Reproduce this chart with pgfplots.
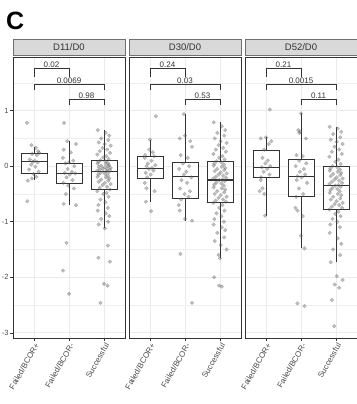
\documentclass[border=0pt]{standalone}
\usepackage{pgfplots}
\pgfplotsset{compat=1.18}
\usepackage{fontspec}
\setmainfont{Liberation Sans}
\definecolor{g20}{HTML}{333333}
\definecolor{g30}{HTML}{4D4D4D}
\definecolor{stripc}{HTML}{D9D9D9}
\definecolor{gridc}{HTML}{EBEBEB}
\pgfplotsset{
  panel/.style={
    scale only axis, width=112pt, height=281pt, anchor=south west,
    xmin=0.4, xmax=3.6, ymin=-3.094, ymax=1.967,
    xtick={1,2,3}, xticklabels={Failed/BCOR+, Failed/BCOR-, Successful},
    ytick={-3,-2,-1,0,1}, minor ytick={-2.5,-1.5,-0.5,0.5,1.5},
    grid=both,
    major grid style={color=gridc, line width=0.6pt},
    minor grid style={color=gridc!80, line width=0.3pt},
    tick align=outside, tick pos=left, major tick length=2.8pt, minor tick length=0pt,
    tick style={g20, line width=0.5pt},
    axis line style={g20, line width=0.7pt},
    x tick label style={rotate=60, anchor=north east, font=\fontsize{8}{9}\selectfont, text=g30, inner sep=1pt},
    y tick label style={font=\fontsize{7.5}{8}\selectfont, text=g30, inner sep=1.5pt},
  },
  pts/.style={only marks, mark=*, mark size=1.95pt,
    mark options={draw=black!65, fill=black!65, line width=0.1pt, fill opacity=0.4, draw opacity=0.4}},
  br/.style={g20, line width=0.5pt, mark=none},
}
% box: xleft, xcentre, xright, lower whisker, lower quartile, median, upper quartile, upper whisker
\newcommand{\bxp}[8]{%
  \addplot[g20, line width=0.6pt, mark=none] coordinates {(#2,#4) (#2,#5)};
  \addplot[g20, line width=0.6pt, mark=none] coordinates {(#2,#7) (#2,#8)};
  \addplot[g20, fill=white, line width=0.6pt, line join=miter, line cap=rect, mark=none] coordinates {(#1,#5) (#3,#5) (#3,#7) (#1,#7) (#1,#5)};
  \addplot[g20, line width=1.3pt, mark=none] coordinates {(#1,#6) (#3,#6)};
}
\newcommand{\pv}[3]{\node[anchor=south, font=\fontsize{8}{9}\selectfont, text=g20, inner sep=1.2pt] at (axis cs:#1,#2) {#3};}
\begin{document}
\begin{tikzpicture}
% ---------------- Panel 1: D11/D0
\begin{axis}[panel, name=p1, at={(0pt,0pt)}, yticklabels={-3,-2,-1,0,1}]
\bxp{0.625}{1}{1.375}{-0.25}{-0.12}{0.08}{0.23}{0.35}
\bxp{1.625}{2}{2.375}{-0.70}{-0.31}{-0.13}{0.05}{0.45}
\bxp{2.625}{3}{3.375}{-1.12}{-0.42}{-0.10}{0.10}{0.65}
\addplot[pts] coordinates {
(0.80,0.78) (0.93,0.38) (1.05,0.33) (1.12,0.27) (1.15,0.24) (0.95,0.22) (1.08,0.20) (0.88,0.12) (1.02,0.10) (0.97,0.08)
(1.10,0.07) (0.92,0.03) (1.04,-0.01) (0.86,-0.06) (1.13,-0.10) (0.99,-0.14) (1.07,-0.19) (0.94,-0.22) (0.82,-0.26) (0.81,-0.63)};
\addplot[pts] coordinates {
(1.86,0.78) (1.95,0.45) (2.20,0.40) (1.85,0.30) (2.05,0.25) (1.83,0.15) (2.12,0.10) (2.00,0.07) (1.90,0.05) (2.15,0.00)
(1.96,-0.05) (2.08,-0.10) (1.88,-0.12) (2.18,-0.13) (2.02,-0.15) (1.93,-0.20) (2.10,-0.25) (1.84,-0.30) (1.98,-0.35) (2.14,-0.40)
(1.91,-0.50) (1.85,-0.68) (2.20,-0.70) (1.93,-1.38) (1.83,-1.88) (2.00,-2.30)};
\addplot[pts] coordinates {
(2.82,0.65) (3.05,0.60) (3.15,0.55) (2.92,0.50) (3.12,0.47) (2.85,0.43) (3.02,0.40) (3.19,0.37) (2.96,0.33) (3.09,0.30)
(2.88,0.27) (3.17,0.24) (2.81,0.21) (3.07,0.18) (2.98,0.16) (3.13,0.13) (2.90,0.11) (3.04,0.09) (2.84,0.08) (3.11,0.06)
(2.82,0.05) (3.05,0.04) (3.15,0.02) (2.92,0.01) (3.12,0.00) (2.85,-0.01) (3.02,-0.02) (3.19,-0.03) (2.96,-0.04) (3.09,-0.05)
(2.88,-0.06) (3.17,-0.07) (2.81,-0.08) (3.07,-0.09) (2.98,-0.10) (3.13,-0.11) (2.90,-0.12) (3.04,-0.14) (2.84,-0.15) (3.11,-0.17)
(2.82,-0.19) (3.05,-0.20) (3.15,-0.22) (2.92,-0.24) (3.12,-0.26) (2.85,-0.28) (3.02,-0.30) (3.19,-0.32) (2.96,-0.34) (3.09,-0.37)
(2.88,-0.39) (3.17,-0.42) (2.81,-0.45) (3.07,-0.48) (2.98,-0.50) (3.13,-0.55) (2.90,-0.60) (3.04,-0.65) (2.84,-0.70) (3.11,-0.75)
(2.82,-0.80) (3.05,-0.85) (3.15,-0.90) (2.92,-0.95) (3.12,-1.00) (2.85,-1.05) (3.02,-1.12) (3.11,-1.43) (2.84,-1.65) (3.17,-1.72)
(3.00,-2.12) (3.10,-2.15) (2.90,-2.46)};
\addplot[br] coordinates {(1,1.60) (1,1.76) (2,1.76) (2,1.60)};
\addplot[br] coordinates {(1,1.37) (1,1.47) (3,1.47) (3,1.37)};
\addplot[br] coordinates {(2,1.10) (2,1.20) (3,1.20) (3,1.10)};
\pv{1.5}{1.76}{0.02}
\pv{2}{1.47}{0.0069}
\pv{2.5}{1.20}{0.98}
\end{axis}
% ---------------- Panel 2: D30/D0
\begin{axis}[panel, name=p2, at={(116pt,0pt)}, yticklabels={}, ytick style={draw=none}]
\bxp{0.625}{1}{1.375}{-0.64}{-0.21}{-0.04}{0.17}{0.48}
\bxp{1.625}{2}{2.375}{-0.98}{-0.58}{-0.19}{0.07}{0.94}
\bxp{2.625}{3}{3.375}{-1.66}{-0.65}{-0.25}{0.08}{0.79}
\addplot[pts] coordinates {
(1.17,0.90) (1.00,0.48) (0.98,0.30) (1.08,0.25) (0.86,0.20) (1.12,0.18) (0.85,0.15) (1.04,0.10) (0.94,0.05) (1.15,0.02)
(0.90,0.00) (1.06,-0.03) (0.97,-0.05) (1.10,-0.08) (0.88,-0.12) (1.02,-0.15) (0.92,-0.20) (0.85,-0.30) (0.90,-0.40) (1.13,-0.45)
(0.88,-0.64) (1.03,-0.81)};
\addplot[pts] coordinates {
(1.97,0.94) (2.00,0.55) (1.85,0.50) (2.15,0.45) (2.20,0.35) (1.88,0.20) (2.08,0.15) (1.94,0.05) (2.12,0.00) (1.83,-0.05)
(2.04,-0.10) (1.97,-0.15) (2.18,-0.20) (1.90,-0.25) (2.06,-0.30) (1.86,-0.40) (2.14,-0.45) (1.99,-0.50) (2.10,-0.55) (1.89,-0.60)
(1.82,-0.70) (1.85,-0.80) (2.00,-0.95) (2.20,-0.98) (1.87,-1.58) (2.20,-2.46)};
\addplot[pts] coordinates {
(2.82,0.79) (3.05,0.72) (3.15,0.65) (2.92,0.60) (3.12,0.55) (2.85,0.50) (3.02,0.45) (3.19,0.42) (2.96,0.38) (3.09,0.33)
(2.88,0.30) (3.17,0.26) (2.81,0.22) (3.07,0.18) (2.98,0.15) (3.13,0.12) (2.90,0.09) (3.04,0.07) (2.84,0.05) (3.11,0.03)
(2.82,0.01) (3.05,-0.01) (3.15,-0.03) (2.92,-0.05) (3.12,-0.07) (2.85,-0.09) (3.02,-0.11) (3.19,-0.13) (2.96,-0.15) (3.09,-0.17)
(2.88,-0.19) (3.17,-0.21) (2.81,-0.22) (3.07,-0.24) (2.98,-0.25) (3.13,-0.27) (2.90,-0.29) (3.04,-0.31) (2.84,-0.33) (3.11,-0.35)
(2.82,-0.38) (3.05,-0.40) (3.15,-0.42) (2.92,-0.45) (3.12,-0.47) (2.85,-0.50) (3.02,-0.52) (3.19,-0.55) (2.96,-0.57) (3.09,-0.60)
(2.88,-0.62) (3.17,-0.64) (2.81,-0.66) (3.07,-0.70) (2.98,-0.75) (3.13,-0.80) (2.90,-0.85) (3.04,-0.90) (2.84,-0.95) (3.11,-1.00)
(2.82,-1.05) (3.05,-1.10) (3.15,-1.15) (2.92,-1.20) (3.12,-1.28) (2.85,-1.35) (3.02,-1.42) (3.19,-1.50) (2.96,-1.60) (3.00,-1.66)
(2.83,-2.00) (2.97,-2.15) (3.05,-2.17)};
\addplot[br] coordinates {(1,1.60) (1,1.76) (2,1.76) (2,1.60)};
\addplot[br] coordinates {(1,1.37) (1,1.47) (3,1.47) (3,1.37)};
\addplot[br] coordinates {(2,1.10) (2,1.20) (3,1.20) (3,1.10)};
\pv{1.5}{1.76}{0.24}
\pv{2}{1.47}{0.03}
\pv{2.5}{1.20}{0.53}
\end{axis}
% ---------------- Panel 3: D52/D0
\begin{axis}[panel, name=p3, at={(232pt,0pt)}, yticklabels={}, ytick style={draw=none}]
\bxp{0.625}{1}{1.375}{-0.89}{-0.20}{-0.02}{0.29}{0.52}
\bxp{1.625}{2}{2.375}{-1.48}{-0.55}{-0.18}{0.12}{0.95}
\bxp{2.625}{3}{3.375}{-1.73}{-0.77}{-0.35}{-0.01}{0.71}
\addplot[pts] coordinates {
(1.11,1.02) (1.00,0.52) (0.85,0.50) (1.15,0.45) (1.08,0.40) (0.95,0.30) (0.90,0.15) (1.05,0.10) (0.98,0.05) (1.12,0.00)
(0.88,-0.02) (1.03,-0.05) (0.93,-0.10) (1.10,-0.15) (0.86,-0.20) (0.85,-0.25) (0.90,-0.40) (0.82,-0.45) (0.95,-0.50) (0.97,-0.89)};
\addplot[pts] coordinates {
(2.00,0.95) (1.92,0.65) (1.98,0.62) (1.95,0.60) (2.14,0.50) (1.87,0.20) (2.05,0.18) (1.95,0.10) (2.15,0.05) (1.85,0.00)
(2.08,-0.05) (1.97,-0.10) (2.12,-0.15) (1.90,-0.18) (2.02,-0.20) (1.88,-0.25) (2.17,-0.30) (1.94,-0.40) (2.06,-0.50) (1.86,-0.55)
(1.84,-0.75) (1.90,-0.80) (2.05,-0.90) (2.00,-1.25) (2.10,-1.48) (1.90,-2.47) (2.10,-2.52)};
\addplot[pts] coordinates {
(2.82,0.71) (3.05,0.68) (3.15,0.62) (2.92,0.58) (3.12,0.52) (2.85,0.48) (3.02,0.44) (3.19,0.40) (2.96,0.35) (3.09,0.30)
(2.88,0.26) (3.17,0.22) (2.81,0.17) (3.07,0.12) (2.98,0.08) (3.13,0.04) (2.90,0.00) (3.04,-0.02) (2.84,-0.04) (3.11,-0.06)
(2.82,-0.08) (3.05,-0.10) (3.15,-0.12) (2.92,-0.14) (3.12,-0.16) (2.85,-0.18) (3.02,-0.20) (3.19,-0.22) (2.96,-0.24) (3.09,-0.26)
(2.88,-0.28) (3.17,-0.30) (2.81,-0.32) (3.07,-0.34) (2.98,-0.35) (3.13,-0.37) (2.90,-0.39) (3.04,-0.41) (2.84,-0.43) (3.11,-0.45)
(2.82,-0.48) (3.05,-0.50) (3.15,-0.52) (2.92,-0.55) (3.12,-0.58) (2.85,-0.60) (3.02,-0.63) (3.19,-0.66) (2.96,-0.68) (3.09,-0.70)
(2.88,-0.73) (3.17,-0.75) (2.81,-0.78) (3.07,-0.82) (2.98,-0.86) (3.13,-0.90) (2.90,-0.95) (3.04,-1.00) (2.84,-1.05) (3.11,-1.10)
(2.82,-1.20) (3.05,-1.30) (3.15,-1.40) (2.92,-1.50) (3.12,-1.60) (2.85,-1.73) (3.02,-1.98) (3.19,-2.05) (2.96,-2.13) (3.09,-2.19)
(2.88,-2.41) (2.95,-2.88)};
\addplot[br] coordinates {(1,1.60) (1,1.76) (2,1.76) (2,1.60)};
\addplot[br] coordinates {(1,1.37) (1,1.47) (3,1.47) (3,1.37)};
\addplot[br] coordinates {(2,1.10) (2,1.20) (3,1.20) (3,1.10)};
\pv{1.5}{1.76}{0.21}
\pv{2}{1.47}{0.0015}
\pv{2.5}{1.20}{0.11}
\end{axis}
% ---------------- strips
\foreach \p/\t in {p1/D11\slash D0, p2/D30\slash D0, p3/D52\slash D0}{
  \draw[fill=stripc, draw=g20!70, line width=0.6pt] ([yshift=1.3pt]\p.north west) rectangle ([yshift=17.7pt]\p.north east);
  \node[font=\fontsize{9.5}{10}\selectfont, text=g20] at ([yshift=9.5pt]\p.north) {\t};
}
\node[anchor=base west, font=\fontsize{25}{25}\selectfont\bfseries, inner sep=0pt] at (-7pt,308pt) {C};
\pgfresetboundingbox
\path (-13pt,-66pt) rectangle (343pt,338pt);
\end{tikzpicture}
\end{document}
